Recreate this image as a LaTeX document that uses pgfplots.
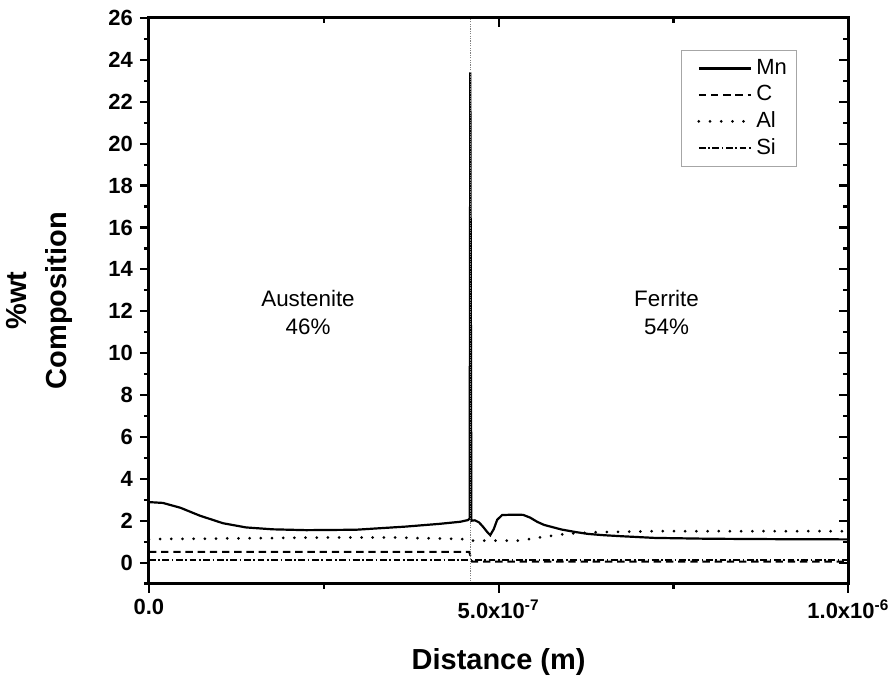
\documentclass[border=0pt]{standalone}
\usepackage{fontspec}
\setmainfont{Liberation Sans}
\usepackage{pgfplots}
\pgfplotsset{compat=1.18}
\begin{document}
\begin{tikzpicture}
\pgfplotsset{
  common/.style={
    scale only axis, width=350pt, height=283pt,
    xmin=0, xmax=10, ymin=-1, ymax=26,
    xtick={0,5,10}, minor xtick={2.5,7.5},
    ytick={0,2,...,26}, minor ytick={-1,1,...,25},
    axis line style={line width=1.5pt},
    major tick length=4.5pt, minor tick length=2.5pt,
    every tick/.style={black, line width=1.1pt},
  }
}
\begin{axis}[common, name=main,
  tick align=outside, xtick pos=left, ytick pos=left,
  xticklabels={0.0,5.0x10\textsuperscript{-7},1.0x10\textsuperscript{-6}},
  /pgf/number format/assume math mode=true,
  ticklabel style={font=\bfseries\fontsize{11}{13}\selectfont},
  xlabel={Distance (m)},
  ylabel={\%wt\\Composition},
  xlabel style={font=\bfseries\fontsize{14.5}{16}\selectfont, at={(axis description cs:0.5,-0.138)}, anchor=center},
  ylabel style={font=\bfseries\fontsize{14.5}{20}\selectfont, align=center, at={(axis description cs:-0.156,0.5)}, anchor=center},
  legend style={at={(0.927,0.9435)}, anchor=north east, draw=gray!70, line width=0.5pt,
    font=\fontsize{11}{12}\selectfont, row sep=0pt, inner xsep=3pt, inner ysep=2.5pt},
  legend cell align=left,
  legend image code/.code={\path (-5pt,0pt); \draw[#1] (0pt,0pt) -- (26pt,0pt);},
]
\addplot[black, line width=1.1pt] coordinates {
(0,2.89)(0.2,2.85)(0.45,2.62)(0.73,2.24)(1.06,1.88)(1.39,1.68)(1.77,1.59)(2.25,1.55)(2.96,1.57)(3.67,1.72)(4.15,1.85)(4.45,1.95)(4.56,2.03)(4.585,2.1)(4.595,23.4)(4.61,2.0)(4.66,2.02)(4.72,1.92)(4.78,1.7)(4.84,1.45)(4.88,1.31)(4.93,1.6)(4.98,2.05)(5.05,2.27)(5.2,2.29)(5.35,2.28)(5.45,2.15)(5.55,1.95)(5.65,1.8)(5.9,1.58)(6.1,1.46)(6.28,1.37)(6.5,1.31)(6.76,1.26)(7.23,1.18)(8,1.14)(9,1.12)(10,1.11)
};
\addlegendentry{Mn}
\addplot[black, line width=1pt, dash pattern=on 3.7pt off 2.4pt] coordinates {
(0,0.51)(4.58,0.51)(4.62,0.05)(10,0.05)
};
\addlegendentry{C}
\addplot[black, line width=1.5pt, line cap=round, dash pattern=on 0pt off 5.6pt] coordinates {
(0,1.12)(1,1.15)(2.5,1.2)(3.5,1.2)(4.58,1.12)(4.62,1.05)(5.3,1.05)(5.54,1.18)(5.71,1.26)(5.88,1.34)(6.04,1.39)(6.38,1.45)(7.2,1.5)(8.5,1.5)(10,1.5)
};
\addlegendentry{Al}
\addplot[black, line width=1pt, dash pattern=on 3.4pt off 1.3pt on 0.8pt off 1.3pt] coordinates {
(0,0.12)(4.6,0.12)(10,0.12)
};
\addlegendentry{Si}
\addplot[gray, line width=0.5pt, dash pattern=on 0.6pt off 0.6pt, forget plot] coordinates {(4.6,-1)(4.6,26)};
\node[align=center, font=\fontsize{11.2}{14}\selectfont] at (axis cs:2.275,11.93) {Austenite\\46\%};
\node[align=center, font=\fontsize{11.2}{14}\selectfont] at (axis cs:7.40,11.93) {Ferrite\\54\%};
\end{axis}
\begin{axis}[common,
  tick align=inside, xtick pos=right, ytick pos=right,
  xticklabels={}, yticklabels={},
]
\end{axis}
\path ([xshift=-74.5pt,yshift=-48.5pt]main.south west) rectangle ([xshift=23.5pt,yshift=9pt]main.north east);
\end{tikzpicture}
\end{document}
